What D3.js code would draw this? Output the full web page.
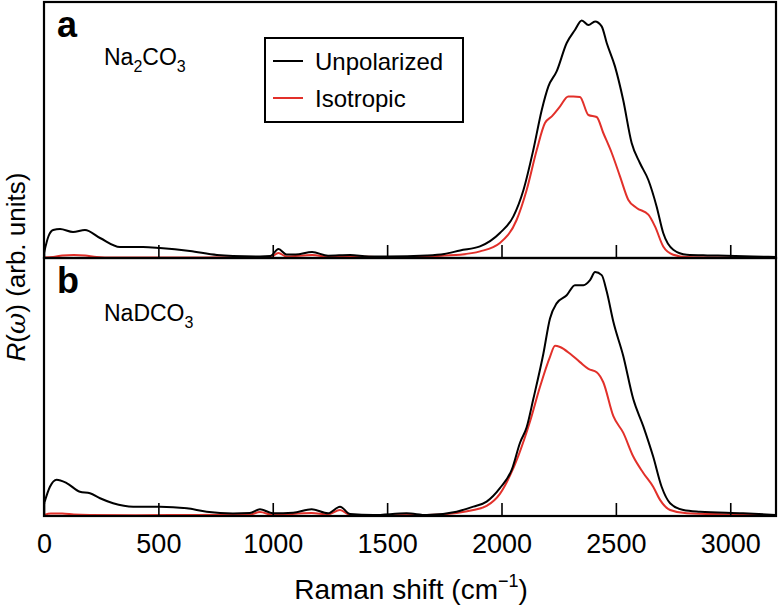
<!DOCTYPE html>
<html><head><meta charset="utf-8">
<script src="https://cdn.jsdelivr.net/npm/d3@7"></script>
<style>
body{margin:0;background:#fff;}
svg{display:block;font-family:"Liberation Sans",Arial,Helvetica,sans-serif;}
</style></head>
<body><svg id="c" width="778" height="609"></svg>
<script>
// ---- data (Raman shift in cm^-1, intensity in arb. units) ----
const aUnpolX = [0,20,40,70,127,179,245,332,433,507,638,756,826,944,990,1025,1060,1100,1172,1242,1338,1420,1500,1674,1750,1819,1906,1993,2052,2096,2139,2176,2205,2241,2285,2321,2351,2380,2409,2438,2460,2496,2532,2569,2605,2642,2678,2707,2751,2810,2900,2984,3100,3200];
const aUnpolY = [5,22,28,29,26,28,20,11,11,10,7,3,2,1.5,2,9,3.5,3.5,6,2.3,3,1.5,1.5,2.5,4,7.6,11.6,25,41.6,68,108,148,171.6,186.6,215,228,237.6,233,236.6,231.6,215,191.6,158,115,95,78,51.6,25,8.3,3.3,2.6,2.3,1.6,1];
const aIsoX = [0,40,80,130,180,230,300,600,990,1025,1060,1172,1250,1338,1500,1674,1750,1819,1906,1993,2066,2110,2154,2190,2220,2256,2292,2314,2343,2380,2416,2445,2482,2518,2554,2591,2642,2671,2707,2751,2810,3000,3200];
const aIsoY = [0.5,1,2.5,3,2.5,1,0.5,0.5,1,5,1.5,3,1,1.5,0.8,1.5,2.5,3.3,6.6,15,38,68,108,135,141.6,151.6,161.6,161.6,161,143,141,125,105,81.6,58.3,50,43.3,31.6,11.6,3.3,1,0.5,0.3];
const bUnpolX = [0,26,55,99,157,201,245,302,390,507,624,711,826,900,944,1001,1089,1170,1242,1294,1338,1440,1585,1673,1804,1877,1935,1993,2045,2081,2110,2139,2183,2212,2241,2285,2321,2358,2387,2409,2438,2460,2489,2532,2576,2620,2663,2700,2737,2795,2868,3056,3200];
const bUnpolY = [12,29,36,32.7,24,22.6,17.6,12.7,9.3,9.3,7.6,4.3,2.6,3,6.7,2.7,3.3,6.7,2.7,9.3,2,1,2.7,1,4.3,9.3,14.3,27.7,46,72.7,88,116,161,196,211,219,229,229,234,242,239,222.7,192.7,159,116,89,59,29,12.7,6,4.3,2.7,1];
const bIsoX = [0,30,80,130,200,400,600,900,944,1001,1170,1242,1294,1338,1500,1673,1804,1877,1935,1993,2037,2074,2125,2168,2212,2234,2256,2300,2343,2380,2416,2445,2489,2532,2576,2620,2663,2693,2737,2810,2984,3200];
const bIsoY = [1,2.5,2.5,1.5,1,0.8,1,1.5,4,1,3,1.5,6,1,0.8,1,3,6,10,22,40,60,94,128,158,169,167.7,161,152.7,146,142.7,132.7,99,82.7,59,42.7,29,16,6,2.7,1.7,0.8];
const xTicks = [0,500,1000,1500,2000,2500,3000];
const seriesNames = ["Unpolarized","Isotropic"];
const seriesColors = ["#000000","#e2302a"];

const svg = d3.select("#c");
const L = 44, R = 776;
const x = d3.scaleLinear().domain([0,3200]).range([L,R]);
const panels = [
  {top:2, bottom:258, letter:"a", unp:[aUnpolX,aUnpolY], iso:[aIsoX,aIsoY], label:["Na","2","CO","3"]},
  {top:258, bottom:516, letter:"b", unp:[bUnpolX,bUnpolY], iso:[bIsoX,bIsoY], label:["NaDCO","3"]}
];

svg.append("clipPath").attr("id","clipAll").append("rect")
  .attr("x",L).attr("y",0).attr("width",R-L).attr("height",520);

panels.forEach((p,pi)=>{
  const y = d3.scaleLinear().domain([0,256]).range([p.bottom,p.top]);
  const line = d3.line().x(d=>x(d[0])).y(d=>y(d[1])).curve(d3.curveMonotoneX);
  const g = svg.append("g").attr("clip-path","url(#clipAll)");
  [[p.unp,0],[p.iso,1]].slice().reverse().forEach(([s,i])=>{
    const pts = s[0].map((v,k)=>[v,s[1][k]]);
    g.append("path").datum(pts).attr("d",line)
      .attr("fill","none").attr("stroke",seriesColors[i]).attr("stroke-width",2)
      .attr("stroke-linejoin","round");
  });
  // inward ticks
  const ax = d3.axisBottom(x).tickValues(xTicks).tickSizeInner(-13).tickSizeOuter(0).tickFormat("");
  const ag = svg.append("g").attr("transform",`translate(0,${p.bottom})`).call(ax);
  ag.select(".domain").remove();
  ag.selectAll("line").attr("stroke","#000").attr("stroke-width",1.6);
  // frame
  svg.append("rect").attr("x",L).attr("y",p.top).attr("width",R-L).attr("height",p.bottom-p.top)
    .attr("fill","none").attr("stroke","#000").attr("stroke-width",2.2);
  // panel letter
  svg.append("text").attr("x",57).attr("y",p.top+35).attr("font-size",36).attr("font-weight","bold")
    .text(p.letter);
  // compound label
  const t = svg.append("text").attr("x",104).attr("y",p.top+63).attr("font-size",23);
  p.label.forEach((s,k)=>{
    if(k%2===0){ t.append("tspan").attr("dy",k===0?0:-7).attr("font-size",23).text(s); }
    else { t.append("tspan").attr("dy",7).attr("font-size",16).text(s); }
  });
});

// bottom tick labels
const axB = d3.axisBottom(x).tickValues(xTicks).tickSize(0).tickPadding(0).tickFormat(d3.format("d"));
const gB = svg.append("g").attr("transform","translate(0,516)").call(axB);
gB.select(".domain").remove();
gB.selectAll("text").attr("font-size",27).attr("fill","#000")
  .attr("font-family","'Liberation Sans',Arial,sans-serif").attr("dy",null).attr("y",37);

// x label
const xl = svg.append("text").attr("x",411).attr("y",599).attr("text-anchor","middle").attr("font-size",28);
xl.append("tspan").text("Raman shift (cm");
xl.append("tspan").attr("dy",-12).attr("font-size",18).text("\u22121");
xl.append("tspan").attr("dy",12).text(")");

// y label
const yl = svg.append("text").attr("transform","translate(25,267) rotate(-90)").attr("text-anchor","middle").attr("font-size",26);
yl.append("tspan").attr("font-style","italic").text("R");
yl.append("tspan").text("(");
yl.append("tspan").attr("font-style","italic").attr("font-family","'DejaVu Serif',serif").text("\u03C9");
yl.append("tspan").text(") (arb. units)");

// legend
const lg = svg.append("g");
lg.append("rect").attr("x",265).attr("y",38).attr("width",198).attr("height",84)
  .attr("fill","#fff").attr("stroke","#000").attr("stroke-width",2);
seriesNames.forEach((n,i)=>{
  const yy = i===0?61:98;
  lg.append("line").attr("x1",273).attr("x2",303).attr("y1",yy).attr("y2",yy)
    .attr("stroke",seriesColors[i]).attr("stroke-width",2);
  lg.append("text").attr("x",315).attr("y",yy+9).attr("font-size",24).text(n);
});
</script></body></html>
